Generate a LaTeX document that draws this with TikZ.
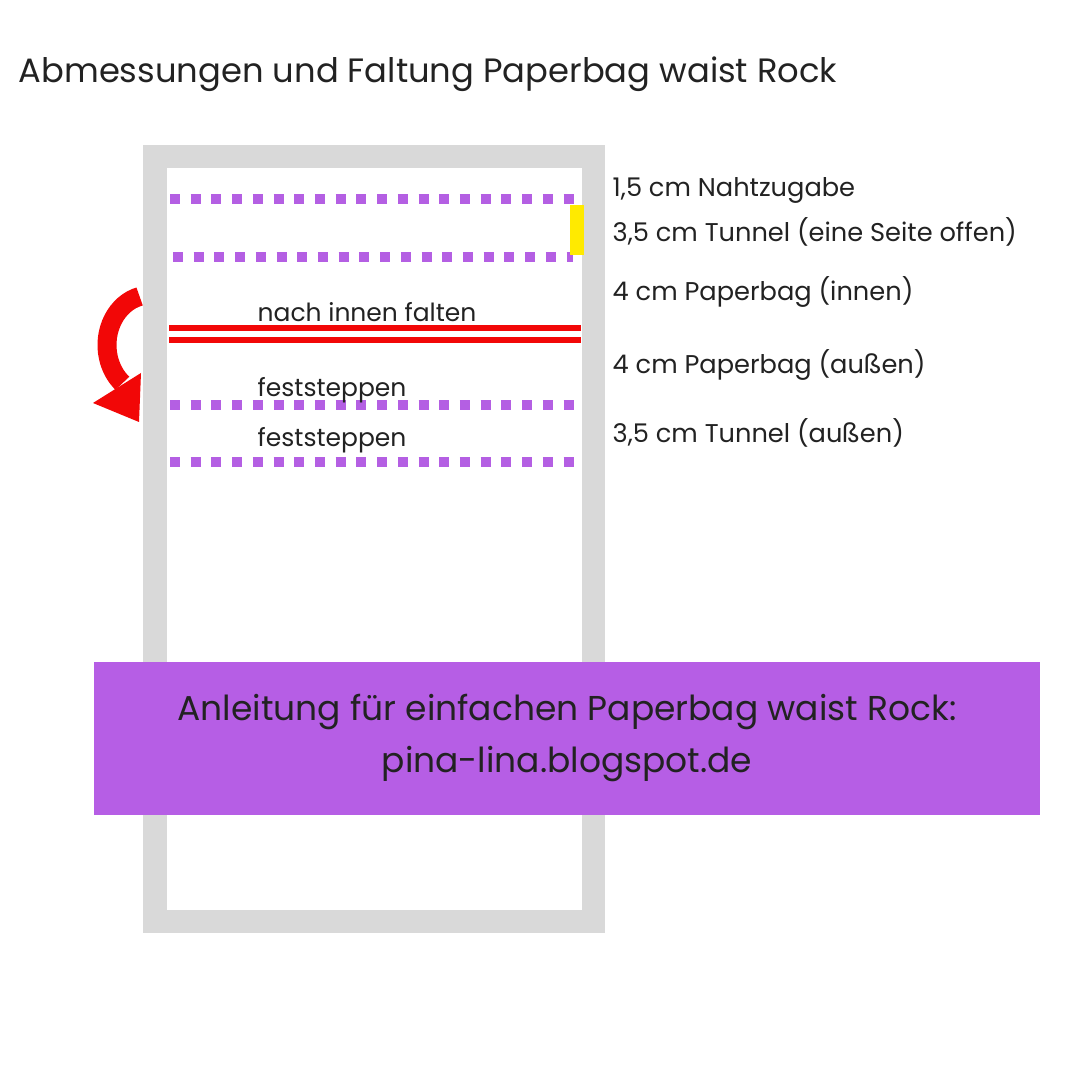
\documentclass[tikz,border=0pt]{standalone}
\usepackage{fontspec}
\setmainfont{Poppins}
\usepackage{xcolor}
\usepackage{tikz}
\usetikzlibrary{positioning}

\definecolor{framegray}{HTML}{D9D9D9}
\definecolor{stitchpurple}{HTML}{B45FE3}
\definecolor{boxpurple}{HTML}{B65EE5}
\definecolor{foldred}{HTML}{F20707}
\definecolor{openyellow}{HTML}{FFEA00}
\definecolor{ink}{HTML}{222222}

\begin{document}
\begin{tikzpicture}[
  x=0.01cm, y=-0.01cm,
  sidelabel/.style={anchor=base west, inner sep=0pt, text=ink,
                    font=\fontsize{7.3pt}{8pt}\selectfont},
  innerlabel/.style={anchor=base west, inner sep=0pt, text=ink,
                     font=\fontsize{7.1pt}{8pt}\selectfont},
  boxline/.style={anchor=base, inner sep=0pt, text=ink,
                  font=\fontsize{9.8pt}{12pt}\selectfont},
  stitch/.style={draw=stitchpurple, line width=0.1cm,
                 dash pattern=on 0.1cm off 0.107cm},
  fold/.style={draw=foldred, line width=0.06cm}
]

% page
\fill[white] (0,0) rectangle (1080,1080);

% title
\node[anchor=base west, inner sep=0pt, text=ink,
      font=\fontsize{9.6pt}{13pt}\selectfont] (title) at (18,83)
  {Abmessungen und Faltung Paperbag waist Rock};

% fabric piece
\draw[framegray, line width=0.23cm] (155,157) rectangle (593,921);

% seam lines
\draw[stitch] (170,199) -- (578,199);
\draw[stitch] (173,257) -- (573,257);
\fill[openyellow] (570,205) rectangle (584,255);

% fold lines
\draw[fold] (169,328) -- (581,328);
\draw[fold] (169,340) -- (581,340);
\node[innerlabel] (foldtext) at (257,322) {nach innen falten};

\draw[stitch] (170,405) -- (578,405);
\node[innerlabel] (stitchone) at (257,397) {feststeppen};
\draw[stitch] (170,462) -- (578,462);
\node[innerlabel] (stitchtwo) at (257,447) {feststeppen};

% fold arrow
\draw[foldred, line width=0.19cm] (150,345)
  ++(256:43 and 50) arc[start angle=256, end angle=130, x radius=43, y radius=50];
\fill[foldred] (93,403) -- (141,373) -- (139,422) -- cycle;

% measurements
\node[sidelabel] (seam) at (612,197) {1,5 cm Nahtzugabe};
\node[sidelabel] (tunnel) at (612,242) {3,5 cm Tunnel (eine Seite offen)};
\node[sidelabel] (bagin) at (612,301) {4 cm Paperbag (innen)};
\node[sidelabel] (bagout) at (612,374) {4 cm Paperbag (außen)};
\node[sidelabel] (tunnelout) at (612,443) {3,5 cm Tunnel (außen)};

% banner
\fill[boxpurple] (94,662) rectangle (1040,815);
\node[boxline] (bannerone) at (567,720) {Anleitung für einfachen Paperbag waist Rock:};
\node[boxline] (bannertwo) at (567,772) {pina-lina.blogspot.de};

\end{tikzpicture}
\end{document}
